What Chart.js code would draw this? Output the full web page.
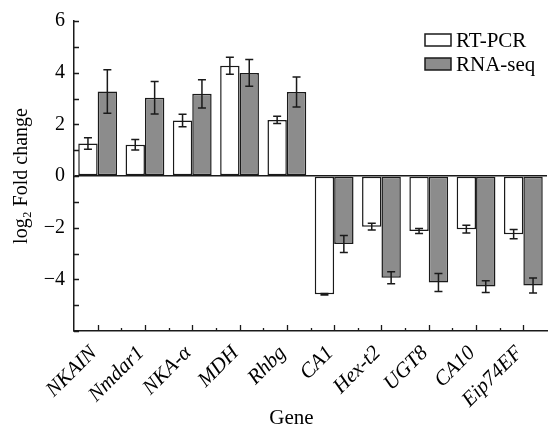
<!DOCTYPE html>
<html>
<head>
<meta charset="utf-8">
<script src="https://cdn.jsdelivr.net/npm/chart.js@4/dist/chart.umd.min.js"></script>
<style>
html,body{margin:0;padding:0;background:#fff;}
#wrap{width:548px;height:426px;position:relative;}
</style>
</head>
<body>
<div id="wrap"><canvas id="c" width="548" height="426"></canvas></div>
<script>
const genes = ['NKAIN','Nmdar1','NKA-α','MDH','Rhbg','CA1','Hex-t2','UGT8','CA10','Eip74EF'];
const rtPcr = [1.26, 1.21, 2.15, 4.27, 2.17, -4.58, -1.96, -2.13, -2.06, -2.25];
const rtPcrErr = [0.22, 0.20, 0.24, 0.33, 0.14, 0.03, 0.13, 0.10, 0.15, 0.18];
const rnaSeq = [3.27, 3.03, 3.18, 3.99, 3.25, -2.63, -3.94, -4.12, -4.28, -4.24];
const rnaSeqErr = [0.84, 0.63, 0.55, 0.52, 0.58, 0.33, 0.23, 0.35, 0.23, 0.29];
const yTickLabels = {6:'6',4:'4',2:'2',0:'0','-2':'\u22122','-4':'\u22124'};
const xTitle = 'Gene';
const yTitle = 'log\u2082 Fold change';

const SERIF = "'Liberation Serif','Times New Roman',serif";
const INK = '#1a1a1a';

const errorBars = {
  id:'errorBars',
  afterDatasetsDraw(chart){
    const ctx = chart.ctx, ys = chart.scales.y;
    const errs = [rtPcrErr, rnaSeqErr];
    chart.data.datasets.forEach((ds, di) => {
      const meta = chart.getDatasetMeta(di);
      meta.data.forEach((el, i) => {
        const v = ds.data[i], e = errs[di][i];
        const y1 = ys.getPixelForValue(v + e), y2 = ys.getPixelForValue(v - e);
        const x = el.x, cap = 4;
        ctx.save();
        ctx.strokeStyle = INK; ctx.lineWidth = 1.5;
        ctx.beginPath();
        ctx.moveTo(x, y1); ctx.lineTo(x, y2);
        ctx.moveTo(x - cap, y1); ctx.lineTo(x + cap, y1);
        ctx.moveTo(x - cap, y2); ctx.lineTo(x + cap, y2);
        ctx.stroke();
        ctx.restore();
      });
    });
  }
};

const innerTicks = {
  id:'innerTicks',
  afterDraw(chart){
    const ctx = chart.ctx, ys = chart.scales.y, xs = chart.scales.x, ca = chart.chartArea;
    ctx.save();
    ctx.strokeStyle = INK; ctx.lineWidth = 1.3;
    ctx.beginPath();
    for (let v = ys.min; v <= ys.max; v++) {
      const y = Math.round(ys.getPixelForValue(v)) + 0.5;
      ctx.moveTo(ca.left, y); ctx.lineTo(ca.left + 5, y);
    }
    const n = genes.length;
    for (let i = 0; i < n; i++) {
      const x = Math.round(xs.getPixelForTick(i)) + 0.5;
      ctx.moveTo(x, ca.bottom); ctx.lineTo(x, ca.bottom - 6);
      if (i < n - 1) {
        const xm = Math.round((xs.getPixelForTick(i) + xs.getPixelForTick(i + 1)) / 2) + 0.5;
        ctx.moveTo(xm, ca.bottom); ctx.lineTo(xm, ca.bottom - 3);
      }
    }
    ctx.stroke();
    // x axis title
    ctx.fillStyle = '#000';
    ctx.font = '21px ' + SERIF;
    ctx.textAlign = 'center';
    ctx.textBaseline = 'alphabetic';
    ctx.fillText(xTitle, (ca.left + ca.right) / 2 - 19, 424);
    ctx.restore();
  }
};

const boxLegend = {
  id:'boxLegend',
  afterDraw(chart){
    const ctx = chart.ctx, ca = chart.chartArea;
    const x0 = ca.right - 122, y0 = ca.top + 13;
    ctx.save();
    ctx.font = '21px ' + SERIF;
    ctx.textBaseline = 'middle';
    ctx.textAlign = 'left';
    chart.data.datasets.forEach((ds, i) => {
      const y = y0 + i * 24;
      ctx.fillStyle = ds.backgroundColor;
      ctx.fillRect(x0, y, 26, 12);
      ctx.strokeStyle = INK; ctx.lineWidth = 1.5;
      ctx.strokeRect(x0, y, 26, 12);
      ctx.fillStyle = '#000';
      ctx.fillText(ds.label, x0 + 31, y + 7);
    });
    ctx.restore();
  }
};

new Chart(document.getElementById('c'), {
  type:'bar',
  data:{
    labels: genes,
    datasets:[
      {label:'RT-PCR', data: rtPcr, backgroundColor:'#ffffff', borderColor:INK, borderWidth:1.5, borderSkipped:false,
       categoryPercentage:0.82, barPercentage:1.0},
      {label:'RNA-seq', data: rnaSeq, backgroundColor:'#8c8c8c', borderColor:INK, borderWidth:1.5, borderSkipped:false,
       categoryPercentage:0.82, barPercentage:1.0}
    ]
  },
  options:{
    responsive:false,
    animation:false,
    devicePixelRatio:1,
    layout:{padding:{top:15, right:1, left:0, bottom:0}},
    plugins:{legend:{display:false}, tooltip:{enabled:false}},
    scales:{
      x:{
        offset:true,
        grid:{display:false},
        border:{display:true, color:INK, width:1.5},
        ticks:{
          color:'#000', maxRotation:45, minRotation:45, padding:2, autoSkip:false, labelOffset:-4,
          font:{family:SERIF, size:21, style:'italic'}
        },
        title:{display:false},
        afterFit(s){ s.height = 95; }
      },
      y:{
        min:-6, max:6,
        grid:{
          drawOnChartArea:true, drawTicks:false,
          color:(c) => (c.tick && c.tick.value === 0) ? INK : 'rgba(0,0,0,0)',
          lineWidth:1.5
        },
        border:{display:true, color:INK, width:1.5},
        ticks:{
          stepSize:1, color:'#000', padding:9,
          font:{family:SERIF, size:20},
          callback:(v) => (yTickLabels[v] !== undefined ? yTickLabels[v] : '')
        },
        title:{display:true, text:yTitle, color:'#000', font:{family:SERIF, size:20}, padding:{top:10, bottom:0}},
        afterFit(s){ s.width = 74; }
      }
    }
  },
  plugins:[errorBars, innerTicks, boxLegend]
});
</script>
</body>
</html>
